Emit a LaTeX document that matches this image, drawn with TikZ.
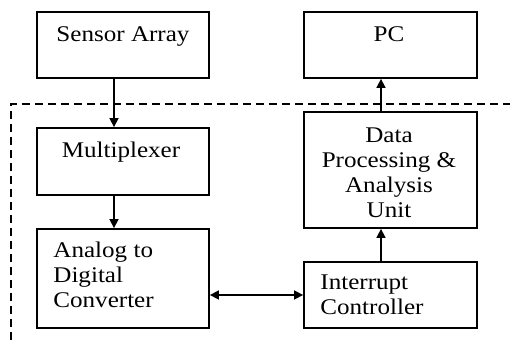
\documentclass[tikz,border=0pt]{standalone}
\usepackage{fontspec}
\setmainfont[FakeStretch = 1.12]{Liberation Serif}
\usetikzlibrary{arrows.meta}
\tikzstyle{diagram} = [x = 0.5pt, y = -0.5pt]
\tikzstyle{blockStyle} = [draw, line width = 0.9pt, inner sep = 0pt]
\tikzstyle{blockText} = [inner sep = 0pt, font = \fontsize{11.2}{12.5}\selectfont]
\tikzstyle{flowArrow} = [line width = 0.8pt, -{Triangle[length = 4.5pt, width = 4.5pt]}]
\tikzstyle{boardLine} = [line width = 0.6pt, dash pattern = on 4pt off 2.5pt]
\newcommand{\block}[5]{\node [blockStyle, minimum width = #4*0.5pt, minimum height = #5*0.5pt] (#1) at (#2, #3) {};}

\begin{document}
\begin{tikzpicture}[diagram]
  \useasboundingbox (0, 0) rectangle (510, 340);
  \draw [boardLine] (11, 340) -- (11, 104) -- (510, 104);

  \block{sensor}{123}{45}{172}{66}
  \block{mux}{123}{161.5}{172}{67}
  \block{adc}{123}{278.5}{172}{99}
  \block{pc}{390.5}{45}{173}{66}
  \block{dpa}{390.5}{170}{173}{116}
  \block{intc}{390.5}{295}{173}{66}

  \node [blockText, anchor = base] (sensorText) at (123, 42) {Sensor Array};
  \node [blockText, anchor = base] (muxText) at (121, 158) {Multiplexer};
  \node [blockText, anchor = north west, align = left] (adcText) at (53, 242) {Analog to\\Digital\\Converter};
  \node [blockText, anchor = base] (pcText) at (389, 42) {PC};
  \node [blockText, anchor = north, align = center] (dpaText) at (389, 127) {Data\\Processing \&\\Analysis\\Unit};
  \node [blockText, anchor = north west, align = left] (intcText) at (320, 274) {Interrupt\\Controller};

  \draw [flowArrow] ([xshift = -4.5pt]sensor.south) -- ([xshift = -4.5pt]mux.north);
  \draw [flowArrow] ([xshift = -4.5pt]mux.south) -- ([xshift = -4.5pt]adc.north);
  \draw [flowArrow] ([xshift = -4.75pt]intc.north) -- ([xshift = -4.75pt]dpa.south);
  \draw [flowArrow] ([xshift = -4.75pt]dpa.north) -- ([xshift = -4.75pt]pc.south);
  \draw [flowArrow, {Triangle[length = 4.5pt, width = 4.5pt]}-{Triangle[length = 4.5pt, width = 4.5pt]}] (intc.west -| adc.east) -- (intc.west);
\end{tikzpicture}
\end{document}
